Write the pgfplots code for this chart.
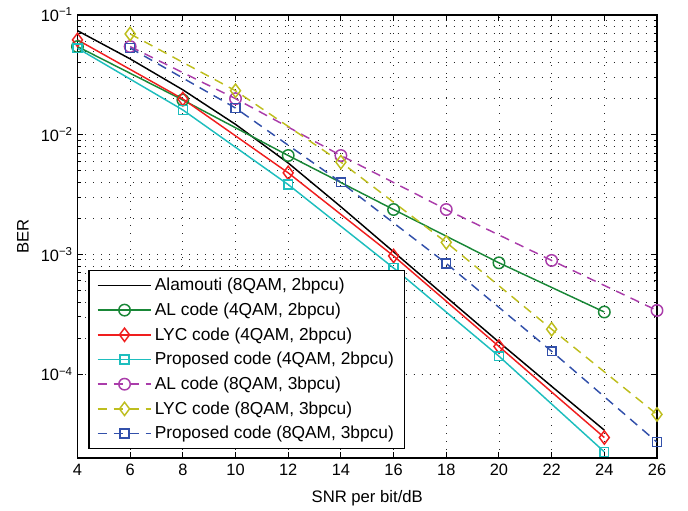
\documentclass[border=0pt]{standalone}
\usepackage{fontspec}
\setmainfont{Liberation Sans}
\usepackage{pgfplots}
\pgfplotsset{compat=1.18}
\definecolor{colG}{RGB}{25,135,55}
\definecolor{colR}{RGB}{240,30,30}
\definecolor{colC}{RGB}{30,190,190}
\definecolor{colM}{RGB}{170,60,170}
\definecolor{colY}{RGB}{190,190,30}
\definecolor{colB}{RGB}{50,80,170}
\begin{document}
\begin{tikzpicture}
\begin{axis}[
  scale only axis,
  width=434.6pt, height=332pt,
  xmin=4, xmax=26, ymin=2e-5, ymax=1e-1,
  ymode=log,
  xtick={4,6,...,26},
  ytick={1e-4,1e-3,1e-2,1e-1},
  yticklabels={10\textsuperscript{−4},10\textsuperscript{−3},10\textsuperscript{−2},10\textsuperscript{−1}},
  /pgf/number format/assume math mode=true,
  tick label style={font=\fontsize{12.3}{14}\selectfont},
  xticklabel style={yshift=-1pt},
  label style={font=\fontsize{12.5}{15}\selectfont},
  xlabel={SNR per bit/dB}, ylabel={BER},
  xlabel style={at={(axis description cs:0.5,-0.091)}, anchor=center},
  ylabel style={at={(axis description cs:-0.0943,0.5)}, anchor=center},
  grid=both,
  major grid style={black!85, line width=0.6pt, dash pattern=on 0.7pt off 5.3pt},
  minor grid style={black!85, line width=0.6pt, dash pattern=on 0.7pt off 5.3pt},
  axis line style={line width=1.3pt},
  tick style={black, line width=0.7pt},
  major tick length=4.5pt, minor tick length=2.5pt,
  tick align=inside,
  every axis plot/.append style={line width=1.1pt},
  legend style={at={(0.0185,0.02)}, anchor=south west, draw=black, line width=1pt,
    font=\fontsize{13}{15.5}\selectfont, row sep=3.6pt, inner xsep=6pt, inner ysep=3.5pt},
  legend cell align=left,
  legend image code/.code={\draw[mark repeat=2,mark phase=2] plot coordinates {(0cm,0cm)(0.71cm,0cm)(1.42cm,0cm)};},
]
\coordinate (bl) at (rel axis cs:0,0);
\coordinate (tr) at (rel axis cs:1,1);
\addplot[black, mark=none] coordinates {
(4,0.074)(6,0.043)(8,0.0237)(10,0.0122)(12,0.0058)(14,0.0025)(16,0.00105)(18,0.00044)(20,0.000185)(22,0.000079)(24,0.000034)};
\addlegendentry{Alamouti (8QAM, 2bpcu)}
\addplot[colG, mark=o, mark size=4.3pt] coordinates {
(4,0.0545)(8,0.0195)(12,0.0067)(16,0.00237)(20,0.00085)(24,0.00033)};
\addlegendentry{AL code (4QAM, 2bpcu)}
\addplot[colR, mark=diamond, mark size=5pt] coordinates {
(4,0.062)(8,0.0199)(12,0.0048)(16,0.00097)(20,0.00017)(24,0.0000295)};
\addlegendentry{LYC code (4QAM, 2bpcu)}
\addplot[colC, mark=square, mark size=3.3pt] coordinates {
(4,0.0528)(8,0.0161)(12,0.00383)(16,0.00077)(20,0.000141)(24,0.0000224)};
\addlegendentry{Proposed code (4QAM, 2bpcu)}
\addplot[colM, mark=o, mark size=4.3pt, dash pattern=on 7pt off 5pt, mark options={solid}] coordinates {
(6,0.0545)(10,0.020)(14,0.0067)(18,0.00237)(22,0.00089)(26,0.00034)};
\addlegendentry{AL code (8QAM, 3bpcu)}
\addplot[colY, mark=diamond, mark size=5pt, dash pattern=on 7pt off 5pt, mark options={solid}] coordinates {
(6,0.0695)(10,0.0233)(14,0.0059)(18,0.00126)(22,0.000237)(26,0.000046)};
\addlegendentry{LYC code (8QAM, 3bpcu)}
\addplot[colB, mark=square, mark size=3.3pt, dash pattern=on 7pt off 5pt, mark options={solid}] coordinates {
(6,0.053)(10,0.0167)(14,0.0040)(18,0.00084)(22,0.000155)(26,0.000027)};
\addlegendentry{Proposed code (8QAM, 3bpcu)}
\end{axis}
\path ([shift={(-58.1pt,-38.25pt)}]bl) rectangle ([shift={(23.25pt,11.25pt)}]tr);
\end{tikzpicture}
\end{document}
